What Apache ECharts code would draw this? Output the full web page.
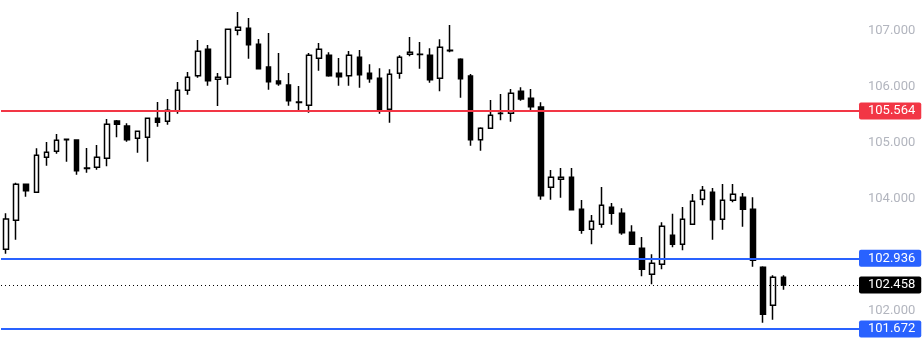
<!DOCTYPE html>
<html>
<head>
<meta charset="utf-8">
<script src="https://cdn.jsdelivr.net/npm/echarts@6/dist/echarts.min.js"></script>
<style>
html,body{margin:0;padding:0;background:#fff;}
#chart{width:924px;height:344px;}
</style>
</head>
<body>
<div id="chart"></div>
<script>
// Candle values (oldest -> newest)
var opens = [103.096,103.614,104.257,104.114,104.739,104.846,105.052,105.048,104.540,104.560,
  104.721,105.387,105.298,105.078,105.096,105.435,105.382,105.560,105.935,106.196,
  106.668,106.132,106.168,107.007,107.043,106.757,106.352,106.102,106.030,105.727,
  105.668,106.507,106.561,106.239,106.196,106.525,106.239,106.150,105.596,106.239,
  106.578,106.575,106.561,106.150,106.650,106.489,106.191,105.053,105.257,105.521,
  105.525,105.918,105.793,105.637,104.203,104.346,104.382,103.810,103.453,103.543,
  103.846,103.739,103.400,103.114,102.650,102.828,103.346,103.186,103.543,103.989,
  104.114,103.632,103.971,104.025,103.810,102.775,102.096,102.596];
var closes = [103.637,104.257,104.143,104.775,104.828,105.043,105.060,104.500,104.546,104.739,
  105.328,105.328,105.053,105.203,105.435,105.364,105.578,105.935,106.168,106.632,
  106.107,106.168,107.025,107.061,106.750,106.321,106.089,106.053,105.750,105.716,
  106.561,106.668,106.196,106.178,106.561,106.214,106.143,105.571,106.221,106.525,
  106.614,106.580,106.125,106.703,106.643,106.143,105.053,105.257,105.489,105.525,
  105.882,105.780,105.643,104.053,104.382,104.382,103.803,103.436,103.596,103.882,
  103.739,103.393,103.186,102.739,102.846,103.509,103.186,103.632,103.953,104.150,
  103.625,103.971,104.078,103.810,102.900,101.936,102.596,102.458];
var lows = [103.018,103.268,104.035,104.110,104.589,104.803,104.660,104.428,104.464,104.518,
  104.578,105.096,105.018,104.821,104.660,105.285,105.321,105.518,105.857,106.160,
  106.018,105.655,106.035,106.918,106.500,106.315,105.946,106.018,105.660,105.553,
  105.536,106.286,106.178,106.018,106.018,105.982,106.071,105.518,105.357,106.143,
  106.543,106.321,106.071,105.918,106.614,105.803,104.946,104.857,105.250,105.400,
  105.375,105.750,105.584,103.982,103.982,104.018,103.795,103.375,103.186,103.482,
  103.536,103.357,103.180,102.614,102.471,102.739,103.132,103.078,103.536,103.882,
  103.268,103.446,103.936,103.500,102.786,101.786,101.839,102.375];
var highs = [103.739,104.285,104.262,104.900,105.012,105.155,105.071,105.055,104.905,104.959,
  105.423,105.405,105.346,105.208,105.440,105.727,105.780,106.084,106.262,106.834,
  106.744,106.244,107.030,107.334,107.227,106.852,106.959,106.602,106.244,106.012,
  106.602,106.780,106.614,106.512,106.637,106.655,106.400,106.328,106.311,106.561,
  106.887,106.798,106.686,106.846,107.102,106.507,106.227,105.275,105.762,105.869,
  105.959,105.989,105.959,105.721,104.512,104.548,104.548,103.977,103.709,104.209,
  103.923,103.828,103.525,103.316,103.007,103.580,103.732,103.852,104.084,104.227,
  104.191,104.262,104.262,104.102,104.025,102.793,102.632,102.632];

var yTickValues = [102, 104, 105, 106, 107];
var resistanceLevel = 105.564;
var supportLevels = [102.936, 101.672];
var lastPrice = 102.458;
var totalSlots = 85; // visible bar slots, including empty space at the right

var categories = [];
for (var i = 0; i < totalSlots; i++) categories.push(String(i + 1));
var candleData = opens.map(function (o, i) { return [o, closes[i], lows[i], highs[i]]; });

var labelFont = {fontFamily: 'Roboto, "Noto Sans", sans-serif', fontSize: 13};
function levelLine(value, color, type, width) {
  var text = value.toFixed(3);
  return {
    yAxis: value,
    lineStyle: {color: color, type: type, width: width},
    label: Object.assign({
      show: true, position: 'end', distance: 0,
      formatter: function () { return text; },
      color: '#fff', backgroundColor: color,
      padding: [2, 6, 2, 9], borderRadius: 2, lineHeight: 13
    }, labelFont)
  };
}

var chart = echarts.init(document.getElementById('chart'), null, {renderer: 'canvas'});
chart.setOption({
  animation: false,
  backgroundColor: '#ffffff',
  grid: {left: 1, right: 65, top: 0, bottom: 0},
  xAxis: {
    type: 'category', data: categories, boundaryGap: true, show: false
  },
  yAxis: {
    type: 'value', position: 'right', scale: true,
    min: 101.405, max: 107.548,
    axisLine: {show: false}, axisTick: {show: false},
    splitLine: {show: false},
    axisLabel: Object.assign({
      color: '#b2b5be', margin: 9,
      customValues: yTickValues,
      formatter: function (v) { return v.toFixed(3); }
    }, labelFont)
  },
  series: [{
    type: 'candlestick',
    data: candleData,
    barWidth: 5,
    clip: false,
    itemStyle: {
      color: '#ffffff', color0: '#000000',
      borderColor: '#000000', borderColor0: '#000000',
      borderWidth: 1.5
    },
    markLine: {
      silent: true, symbol: 'none', animation: false, precision: 3,
      data: [
        levelLine(resistanceLevel, '#f23645', 'solid', 2),
        levelLine(supportLevels[0], '#2962ff', 'solid', 2),
        levelLine(lastPrice, '#000000', [1, 3], 1),
        levelLine(supportLevels[1], '#2962ff', 'solid', 2)
      ]
    }
  }]
});
</script>
</body>
</html>
